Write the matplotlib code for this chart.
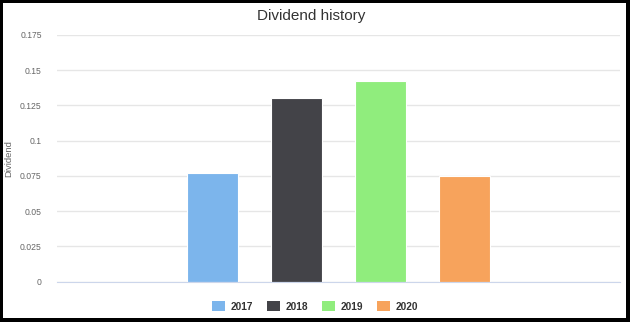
import numpy as np
import matplotlib

matplotlib.use("Agg")
import matplotlib.pyplot as plt
from matplotlib.patches import Rectangle, Patch

plt.rcParams["font.family"] = ["Liberation Sans", "DejaVu Sans"]

years = ["2017", "2018", "2019", "2020"]
dividends = [0.077, 0.13, 0.142, 0.0746]
colors = ["#7cb5ec", "#434348", "#90ed7d", "#f7a35c"]
yticks = [0, 0.025, 0.05, 0.075, 0.1, 0.125, 0.15, 0.175]
ytick_labels = ["0", "0.025", "0.05", "0.075", "0.1", "0.125", "0.15", "0.175"]

W, H = 630, 322
fig = plt.figure(figsize=(W / 100, H / 100), dpi=100)
ax = fig.add_axes([57 / W, (H - 281.5) / H, (620 - 57) / W, (281.5 - 35) / H])

x = np.arange(len(years))
ax.bar(x, dividends, width=0.605, color=colors, edgecolor="white", linewidth=0.8, zorder=3)

ax.set_xlim(-1.84, 4.84)
ax.set_ylim(0, 0.175)
ax.set_yticks(yticks)
ax.set_yticklabels(ytick_labels)
ax.set_xticks([])
ax.tick_params(axis="y", length=0, pad=11, labelsize=6.2, labelcolor="#666666")
ax.grid(axis="y", color="#e6e6e6", linewidth=1, zorder=0)
for s in ["top", "right", "left"]:
    ax.spines[s].set_visible(False)
ax.spines["bottom"].set_color("#ccd6eb")
ax.spines["bottom"].set_zorder(4)

ax.set_ylabel("Dividend", fontsize=6.8, color="#666666")
ax.yaxis.set_label_coords(-0.078, 0.5)

fig.text(311 / W, 1 - 16 / H, "Dividend history", ha="center", va="center",
         fontsize=11, color="#333333")

handles = [Patch(facecolor=c, edgecolor="none") for c in colors]
fig.legend(handles, years, loc="center", bbox_to_anchor=(315 / W, 1 - 306.5 / H),
           ncol=4, frameon=False, prop={"weight": "bold", "size": 7.3},
           labelcolor="#333333", handlelength=1.3, handleheight=1.0,
           handletextpad=0.5, columnspacing=1.4)

# black frame around the picture
for (x0, y0, w, h) in [(0, 0, 3, H), (0, 0, W, 4), (W - 4, 0, 4, H), (0, H - 2.5, W, 2.5)]:
    fig.add_artist(Rectangle((x0 / W, y0 / H), w / W, h / H, transform=fig.transFigure,
                             facecolor="black", edgecolor="none", zorder=10))

fig.savefig("out.png", dpi=100)
